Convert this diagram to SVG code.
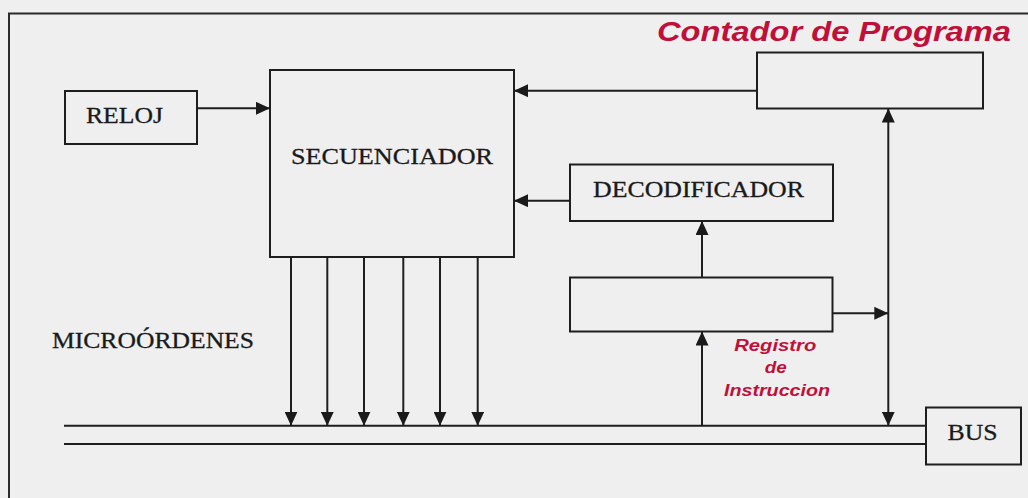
<svg xmlns="http://www.w3.org/2000/svg" width="1028" height="498" viewBox="0 0 1028 498">
  <defs>
    <marker id="arrow" markerUnits="userSpaceOnUse" markerWidth="15" markerHeight="13" refX="14" refY="6.5" orient="auto-start-reverse">
      <path d="M0,0 L14,6.5 L0,13 Z" fill="#1a1a1a"/>
    </marker>
    <style>
      .box { fill: #efefef; stroke: #1e1e1e; stroke-width: 2; }
      .wire { fill: none; stroke: #1e1e1e; stroke-width: 2; }
      .arr { marker-end: url(#arrow); }
      .lbl { font-family: "Liberation Serif", "Times New Roman", serif; font-size: 24px; fill: #1a1a1a; stroke: #1a1a1a; stroke-width: 0.3; }
      .red { font-family: "Liberation Sans", Arial, sans-serif; font-weight: bold; font-style: italic; fill: #c0103a; }
    </style>
  </defs>

  <rect width="1028" height="498" fill="#efefef"/>
  <!-- outer frame (open to the right and bottom) -->
  <path d="M9,500 V13.5 H1030" fill="none" stroke="#2a2a2a" stroke-width="2"/>

  <text class="red" x="657" y="40.5" font-size="27" textLength="354" lengthAdjust="spacingAndGlyphs">Contador de Programa</text>

  <g id="reloj">
    <rect class="box" x="65" y="91" width="132" height="53"/>
    <text class="lbl" x="86" y="122.5" textLength="77" lengthAdjust="spacingAndGlyphs">RELOJ</text>
  </g>

  <g id="secuenciador">
    <rect class="box" x="270" y="70" width="244" height="187"/>
    <text class="lbl" x="291" y="164" textLength="202" lengthAdjust="spacingAndGlyphs">SECUENCIADOR</text>
  </g>

  <g id="contador">
    <rect class="box" x="757" y="52.5" width="226" height="56"/>
  </g>

  <g id="decodificador">
    <rect class="box" x="570" y="164.5" width="263" height="56.5"/>
    <text class="lbl" x="593" y="196.5" textLength="211" lengthAdjust="spacingAndGlyphs">DECODIFICADOR</text>
  </g>

  <g id="registro">
    <rect class="box" x="570" y="277.5" width="262.5" height="54"/>
    <text class="red" font-size="16" text-anchor="middle">
      <tspan x="777.5" y="350.5" textLength="82" lengthAdjust="spacingAndGlyphs">Registro</tspan>
      <tspan x="778" y="373" textLength="22" lengthAdjust="spacingAndGlyphs">de</tspan>
      <tspan x="777" y="396" textLength="106" lengthAdjust="spacingAndGlyphs">Instruccion</tspan>
    </text>
  </g>

  <g id="bus">
    <rect class="box" x="926" y="407.5" width="95" height="57"/>
    <text class="lbl" x="947.5" y="440" textLength="50" lengthAdjust="spacingAndGlyphs">BUS</text>
  </g>

  <g id="microordenes">
    <text class="lbl" x="52" y="347.5" textLength="202" lengthAdjust="spacingAndGlyphs">MICROÓRDENES</text>
  </g>

  <g id="connectors">
    <!-- bus lines -->
    <path class="wire" d="M64,425.7 H926"/>
    <path class="wire" d="M64,444 H926"/>
    <!-- reloj to secuenciador -->
    <path class="wire arr" d="M197,108.3 H270"/>
    <!-- contador to secuenciador -->
    <path class="wire arr" d="M757,90.7 H514"/>
    <!-- decodificador to secuenciador -->
    <path class="wire arr" d="M570,200.7 H514"/>
    <!-- registro to decodificador -->
    <path class="wire arr" d="M702,277.5 V221"/>
    <!-- bus to registro -->
    <path class="wire arr" d="M702,425.7 V331.5"/>
    <!-- registro to vertical bus link -->
    <path class="wire arr" d="M832.5,313.3 H888.3"/>
    <!-- bus link to contador, both directions -->
    <path class="wire arr" d="M888.3,425.7 V108.5" style="marker-start:url(#arrow)"/>
    <!-- microorder lines -->
    <path class="wire arr" d="M291,257 V425.7"/>
    <path class="wire arr" d="M327.3,257 V425.7"/>
    <path class="wire arr" d="M364,257 V425.7"/>
    <path class="wire arr" d="M403.3,257 V425.7"/>
    <path class="wire arr" d="M440,257 V425.7"/>
    <path class="wire arr" d="M477.7,257 V425.7"/>
  </g>
</svg>
